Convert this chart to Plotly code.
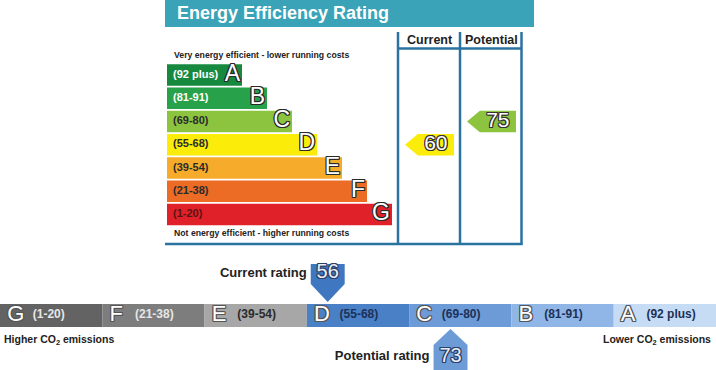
import plotly.graph_objects as go

# ---------------- data ----------------
bands = ["A", "B", "C", "D", "E", "F", "G"]
band_ranges = ["(92 plus)", "(81-91)", "(69-80)", "(55-68)", "(39-54)", "(21-38)", "(1-20)"]
band_low = [92, 81, 69, 55, 39, 21, 1]
band_high = [100, 91, 80, 68, 54, 38, 20]
bar_length = [3, 4, 5, 6, 7, 8, 9]
band_colors = ["#16893f", "#27a24a", "#8cc43f", "#fcec0a", "#f7ab2a", "#ec6b25", "#e12129"]
range_text_colors = ["#ffffff", "#ffffff", "#2b2b2b", "#2b2b2b", "#2b2b2b", "#2b2b2b", "#5a1414"]

columns = ["Current", "Potential"]
eer_values = [60, 75]

co2_bands = ["G", "F", "E", "D", "C", "B", "A"]
co2_ranges = ["(1-20)", "(21-38)", "(39-54)", "(55-68)", "(69-80)", "(81-91)", "(92 plus)"]
co2_low = [1, 21, 39, 55, 69, 81, 92]
co2_high = [20, 38, 54, 68, 80, 91, 100]
co2_colors = ["#636363", "#7d7d7d", "#a7a7a7", "#4a80c6", "#6c9bd8", "#8fb6e6", "#c6dcf4"]
co2_label_colors = ["#e6e6e6", "#e6e6e6", "#2b2b2b", "#1d3157", "#1d3157", "#1d3157", "#1d3157"]
co2_marker_names = ["Current rating", "Potential rating"]
co2_values = [56, 73]
co2_marker_colors = ["#3f78c1", "#6c9bd6"]

# ---------------- layout helpers ----------------
W, H = 716, 370
FONT = "Liberation Sans, Arial, sans-serif"
LINE = "#2a72a0"


def px(x):
    return x / W


def py(y):
    return 1 - y / H


def outline(c, w=1):
    return ", ".join(f"{a}px {b}px 0px {c}" for a, b in [(w, w), (-w, -w), (w, -w), (-w, w), (0, w), (0, -w), (w, 0), (-w, 0)])


def band_of(value, lows, highs):
    for i, (lo, hi) in enumerate(zip(lows, highs)):
        if lo <= value <= hi:
            return i
    return 0


fig = go.Figure()
idx = list(range(len(bands)))

# main rating bars
fig.add_trace(go.Bar(orientation="h", x=bar_length, y=idx, base=0, width=0.92,
                     marker=dict(color=band_colors, line=dict(width=0)),
                     xaxis="x", yaxis="y", hoverinfo="skip"))
fig.add_trace(go.Scatter(x=[0.24] * len(bands), y=idx, mode="text",
                         text=[f"<b>{t}</b>" for t in band_ranges], textposition="middle right",
                         textfont=dict(family=FONT, size=11, color=range_text_colors),
                         xaxis="x", yaxis="y", hoverinfo="skip", cliponaxis=False))
fig.add_trace(go.Scatter(x=[L - 0.08 for L in bar_length], y=idx, mode="text",
                         text=bands, textposition="middle left",
                         textfont=dict(family=FONT, size=23, color="#ffffff", shadow=outline("#2a2a2a")),
                         xaxis="x", yaxis="y", hoverinfo="skip", cliponaxis=False))

# current / potential arrows
for c, val in enumerate(eer_values):
    b = band_of(val, band_low, band_high)
    h = 0.46
    fig.add_trace(go.Scatter(
        x=[c + 0.113, c + 0.32, c + 0.903, c + 0.903, c + 0.32, c + 0.113],
        y=[b, b - h, b - h, b + h, b + h, b],
        mode="lines", fill="toself", fillcolor=band_colors[b], line=dict(width=0),
        xaxis="x2", yaxis="y", hoverinfo="skip"))
    fig.add_trace(go.Scatter(x=[c + 0.61], y=[b], mode="text", text=[str(val)],
                             textposition="middle center",
                             textfont=dict(family=FONT, size=21, color="#ffffff", shadow=outline("#333333")),
                             xaxis="x2", yaxis="y", hoverinfo="skip", cliponaxis=False))

# CO2 strip
cidx = list(range(len(co2_bands)))
fig.add_trace(go.Bar(x=cidx, y=[1] * len(co2_bands), base=0, width=1,
                     marker=dict(color=co2_colors, line=dict(width=0)),
                     xaxis="x3", yaxis="y3", hoverinfo="skip"))
fig.add_trace(go.Scatter(x=[i - 0.5 + 0.07 for i in cidx], y=[0.5] * len(cidx), mode="text",
                         text=co2_bands, textposition="middle right",
                         textfont=dict(family=FONT, size=22, color="#ffffff", shadow=outline("#555555")),
                         xaxis="x3", yaxis="y3", hoverinfo="skip", cliponaxis=False))
fig.add_trace(go.Scatter(x=[i - 0.5 + 0.32 for i in cidx], y=[0.5] * len(cidx), mode="text",
                         text=[f"<b>{t}</b>" for t in co2_ranges], textposition="middle right",
                         textfont=dict(family=FONT, size=12, color=co2_label_colors),
                         xaxis="x3", yaxis="y3", hoverinfo="skip", cliponaxis=False))

# CO2 markers
hw = 0.166
for m, (name, val, col) in enumerate(zip(co2_marker_names, co2_values, co2_marker_colors)):
    k = band_of(val, co2_low, co2_high)
    frac = 0.15 + 0.7 * (val - co2_low[k]) / (co2_high[k] - co2_low[k])
    ax = k - 0.5 + frac
    if m == 0:
        xs = [ax - hw, ax + hw, ax + hw, ax, ax - hw]
        ys = [2.74, 2.74, 1.87, 1.087, 1.87]
        ty = 2.33
    else:
        xs = [ax, ax + hw, ax + hw, ax - hw, ax - hw]
        ys = [-0.087, -0.78, -1.87, -1.87, -0.78]
        ty = -1.3
    fig.add_trace(go.Scatter(x=xs, y=ys, mode="lines", fill="toself", fillcolor=col,
                             line=dict(width=0), xaxis="x3", yaxis="y3", hoverinfo="skip"))
    fig.add_trace(go.Scatter(x=[ax], y=[ty], mode="text", text=[str(val)], textposition="middle center",
                             textfont=dict(family=FONT, size=20, color="#e8eef8", shadow=outline("#2d3f66")),
                             xaxis="x3", yaxis="y3", hoverinfo="skip", cliponaxis=False))
    fig.add_trace(go.Scatter(x=[ax - hw - 0.04], y=[ty], mode="text", text=[f"<b>{name}</b>"],
                             textposition="middle left",
                             textfont=dict(family=FONT, size=13, color="#222222"),
                             xaxis="x3", yaxis="y3", hoverinfo="skip", cliponaxis=False))

# ---------------- decorations ----------------
shapes = [
    dict(type="rect", xref="paper", yref="paper", x0=px(165), x1=px(534), y0=py(27), y1=py(0),
         fillcolor="#3ba3b8", line=dict(width=0), layer="below"),
]
for xv in [398, 460, 521.5]:
    shapes.append(dict(type="line", xref="paper", yref="paper", x0=px(xv), x1=px(xv), y0=py(32), y1=py(244),
                       line=dict(color=LINE, width=2.5)))
shapes.append(dict(type="line", xref="paper", yref="paper", x0=px(398), x1=px(521.5), y0=py(48.5), y1=py(48.5),
                   line=dict(color=LINE, width=2.5)))
shapes.append(dict(type="line", xref="paper", yref="paper", x0=px(165), x1=px(522.7), y0=py(244), y1=py(244),
                   line=dict(color=LINE, width=2.5)))


def ann(x, y, text, size, color="#222222", xanchor="left"):
    return dict(x=px(x), y=py(y), xref="paper", yref="paper", text=text, showarrow=False,
                xanchor=xanchor, yanchor="middle", font=dict(family=FONT, size=size, color=color))


annotations = [
    ann(175, 13.5, "<b>Energy Efficiency Rating</b>", 18, "#ffffff"),
    ann(429.5, 40, f"<b>{columns[0]}</b>", 12.5, "#222222", "center"),
    ann(491, 40, f"<b>{columns[1]}</b>", 12.5, "#222222", "center"),
    ann(172, 55, "<b>Very energy efficient - lower running costs</b>", 8.7),
    ann(172, 233, "<b>Not energy efficient - higher running costs</b>", 8.7),
    ann(2, 340, "<b>Higher CO<sub>2</sub> emissions</b>", 10.5),
    ann(713, 340, "<b>Lower CO<sub>2</sub> emissions</b>", 10.5, "#222222", "right"),
]

hidden = dict(visible=False, showgrid=False, zeroline=False, fixedrange=True)
fig.update_layout(
    width=W, height=H, margin=dict(l=0, r=0, t=0, b=0),
    paper_bgcolor="#ffffff", plot_bgcolor="rgba(0,0,0,0)", showlegend=False,
    barmode="overlay",
    xaxis=dict(domain=[px(167), px(392)], range=[0, 9], anchor="y", **hidden),
    yaxis=dict(domain=[py(226.1), py(63.4)], range=[6.5, -0.5], anchor="x", **hidden),
    xaxis2=dict(domain=[px(398), px(522)], range=[0, 2], anchor="y", **hidden),
    xaxis3=dict(domain=[0, 1], range=[-0.5, 6.5], anchor="y3", **hidden),
    yaxis3=dict(domain=[0, py(255)], range=[-1.87, 3.13], anchor="x3", **hidden),
    shapes=shapes, annotations=annotations,
)

fig.write_html("out.html", config={"displayModeBar": False},
               post_script="document.body.style.margin='0';document.body.style.overflow='hidden';")
